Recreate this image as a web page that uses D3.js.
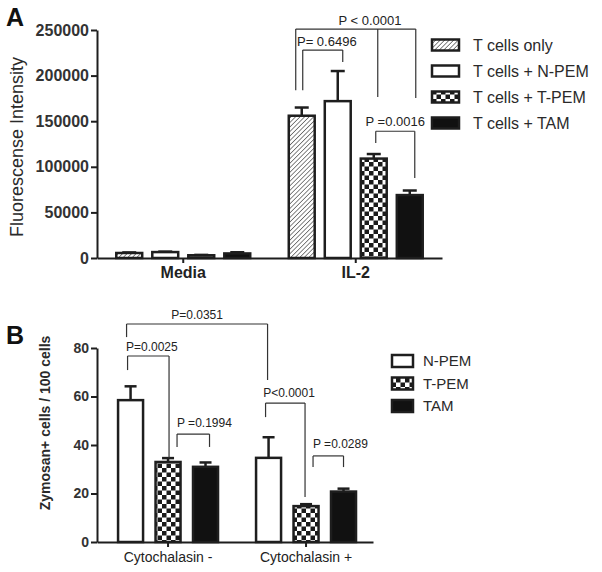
<!DOCTYPE html>
<html>
<head>
<meta charset="utf-8">
<script src="https://cdn.jsdelivr.net/npm/d3@7"></script>
<style>
  body { margin: 0; background: #fff; }
  svg { font-family: Arial, "Liberation Sans", sans-serif; }
</style>
</head>
<body>
<svg id="chart" width="602" height="572"></svg>
<script>
// Panel A data
const groupsA = ['Media', 'IL-2'];
const seriesA = ['T cells only', 'T cells + N-PEM', 'T cells + T-PEM', 'T cells + TAM'];
const meansA = [[5500, 6500, 3000, 5000], [156000, 172000, 109000, 69000]];
const errA = [[600, 500, 400, 1300], [9000, 33000, 5000, 5000]];
const ticksA = [0, 50000, 100000, 150000, 200000, 250000];

// Panel B data
const groupsB = ['Cytochalasin -', 'Cytochalasin +'];
const seriesB = ['N-PEM', 'T-PEM', 'TAM'];
const meansB = [[58.5, 33, 31], [34.7, 14.8, 20.8]];
const errB = [[5.7, 1.6, 1.8], [8.5, 0.8, 1.2]];
const ticksB = [0, 20, 40, 60, 80];

// significance brackets: legs = [group, series], values in data units
const bracketsA = [
  { label: 'P < 0.0001', legs: [[1, 0], [1, 2], [1, 3]], top: 251000, ends: [184000, 176500, 175400] },
  { label: 'P= 0.6496', legs: [[1, 0], [1, 1]], top: 228000, ends: [184000, 215000] },
  { label: 'P =0.0016', legs: [[1, 2], [1, 3]], top: 139000, ends: [126000, 87700] }
];
const bracketsB = [
  { label: 'P=0.0351', legs: [[0, 0], [1, 0]], top: 89.9, ends: [84.5, 66.8] },
  { label: 'P=0.0025', legs: [[0, 0], [0, 1]], top: 76.7, ends: [70.9, 34.6] },
  { label: 'P =0.1994', legs: [[0, 1], [0, 2]], top: 44.5, ends: [39.2, 39.2] },
  { label: 'P<0.0001', legs: [[1, 0], [1, 1]], top: 57.3, ends: [51.5, 18.6] },
  { label: 'P =0.0289', legs: [[1, 1], [1, 2]], top: 35.5, ends: [30.9, 30.9] }
];

// layout tweaks for the brackets (pixels)
const bracketLookA = [
  { nudge: [-6, 4, 6], anchor: 'middle', tx: 370, dy: -4 },
  { nudge: [1, 5], anchor: 'start', tx: 297, dy: -4 },
  { nudge: [2, 5], anchor: 'middle', tx: null, dy: -5 }
];
const bracketLookB = [
  { nudge: [-4, -1], anchor: 'middle', tx: null, dy: -5 },
  { nudge: [-3, 1], anchor: 'start', tx: 126, dy: -5 },
  { nudge: [9, 4], anchor: 'start', tx: 177, dy: -7 },
  { nudge: [-3, -1], anchor: 'middle', tx: 289, dy: -6 },
  { nudge: [7, 0], anchor: 'start', tx: 313, dy: -8 }
];

const ink = '#1e1e1e';
const svg = d3.select('#chart');

// patterns
const defs = svg.append('defs');
const hatch = defs.append('pattern')
  .attr('id', 'hatch').attr('patternUnits', 'userSpaceOnUse')
  .attr('width', 3.2).attr('height', 3.2)
  .attr('patternTransform', 'rotate(45)');
hatch.append('rect').attr('width', 3.2).attr('height', 3.2).attr('fill', '#fff');
hatch.append('line').attr('x1', 0).attr('y1', 0).attr('x2', 0).attr('y2', 3.2)
  .attr('stroke', '#444').attr('stroke-width', 1.3);

const checker = defs.append('pattern')
  .attr('id', 'checker').attr('patternUnits', 'userSpaceOnUse')
  .attr('width', 9).attr('height', 9);
checker.append('rect').attr('width', 9).attr('height', 9).attr('fill', '#fff');
checker.append('rect').attr('width', 4.5).attr('height', 4.5).attr('fill', '#1a1a1a');
checker.append('rect').attr('x', 4.5).attr('y', 4.5).attr('width', 4.5).attr('height', 4.5).attr('fill', '#1a1a1a');

const fillsA = ['url(#hatch)', '#fff', 'url(#checker)', '#111'];
const fillsB = ['#fff', 'url(#checker)', '#111'];

function drawPanel(opt) {
  const g = svg.append('g');
  const y = d3.scaleLinear().domain(opt.yDomain).range(opt.yRange);
  const x0 = d3.scaleBand().domain(opt.groups).range(opt.xRange)
    .paddingInner(opt.padInner).paddingOuter(opt.padOuter).align(opt.align);
  const x1 = d3.scaleBand().domain(d3.range(opt.series.length)).range([0, x0.bandwidth()])
    .paddingInner(opt.subInner).paddingOuter(opt.subOuter);
  const cx = (gi, si) => x0(opt.groups[gi]) + x1(si) + x1.bandwidth() / 2;

  // bars + error bars
  opt.groups.forEach((grp, gi) => {
    opt.series.forEach((s, si) => {
      const v = opt.means[gi][si], e = opt.errs[gi][si];
      const bx = x0(grp) + x1(si);
      g.append('line')
        .attr('x1', bx + x1.bandwidth() / 2).attr('x2', bx + x1.bandwidth() / 2)
        .attr('y1', y(v)).attr('y2', y(v + e))
        .attr('stroke', ink).attr('stroke-width', 2.5);
      g.append('line')
        .attr('x1', bx + x1.bandwidth() / 2 - opt.cap).attr('x2', bx + x1.bandwidth() / 2 + opt.cap)
        .attr('y1', y(v + e)).attr('y2', y(v + e))
        .attr('stroke', ink).attr('stroke-width', 2.5);
      g.append('rect')
        .attr('x', bx).attr('y', y(v))
        .attr('width', x1.bandwidth()).attr('height', y(0) - y(v))
        .attr('fill', opt.fills[si]).attr('stroke', ink).attr('stroke-width', 2.5);
    });
  });

  // y axis
  const yAxis = g.append('g')
    .attr('transform', `translate(${opt.xRange[0]},0)`)
    .call(d3.axisLeft(y).tickValues(opt.ticks).tickFormat(d3.format('d'))
      .tickSize(6).tickSizeOuter(0).tickPadding(2));
  yAxis.select('.domain').attr('stroke', ink).attr('stroke-width', 2);
  yAxis.selectAll('.tick line').attr('stroke', ink).attr('stroke-width', 2);
  yAxis.selectAll('.tick text')
    .attr('fill', '#333').style('font-size', opt.tickFont + 'px').style('font-weight', 'bold')
    .style('font-family', 'Arial, "Liberation Sans", sans-serif');

  // x axis
  const xAxis = g.append('g')
    .attr('transform', `translate(0,${opt.yRange[0]})`)
    .call(d3.axisBottom(x0).tickSize(5).tickSizeOuter(0).tickPadding(opt.xPad));
  xAxis.select('.domain').attr('stroke', ink).attr('stroke-width', 2);
  xAxis.selectAll('.tick line').attr('stroke', ink).attr('stroke-width', 2);
  xAxis.selectAll('.tick text')
    .attr('fill', '#222').style('font-size', opt.xFont + 'px').style('font-weight', opt.xWeight)
    .style('font-family', 'Arial, "Liberation Sans", sans-serif');

  // y label
  g.append('text')
    .attr('transform', `translate(${opt.yLabelX},${(opt.yRange[0] + opt.yRange[1]) / 2 + opt.yLabelDy}) rotate(-90)`)
    .attr('text-anchor', 'middle')
    .attr('fill', '#2a2a2a')
    .style('font-size', opt.yLabelFont + 'px').style('font-weight', opt.yLabelWeight)
    .text(opt.yLabel);

  // brackets
  opt.brackets.forEach((b, bi) => {
    const look = opt.looks[bi];
    const xs = b.legs.map((l, i) => cx(l[0], l[1]) + look.nudge[i]);
    const top = y(b.top);
    g.append('line')
      .attr('x1', d3.min(xs)).attr('x2', d3.max(xs)).attr('y1', top).attr('y2', top)
      .attr('stroke', '#333').attr('stroke-width', 1.2);
    xs.forEach((xv, i) => {
      g.append('line')
        .attr('x1', xv).attr('x2', xv).attr('y1', top).attr('y2', y(b.ends[i]))
        .attr('stroke', '#333').attr('stroke-width', 1.2);
    });
    const tx = look.tx != null ? look.tx : (d3.min(xs) + d3.max(xs)) / 2;
    g.append('text')
      .attr('x', tx).attr('y', top + look.dy)
      .attr('text-anchor', look.anchor)
      .attr('fill', '#222')
      .style('font-size', opt.pFont + 'px')
      .text(b.label);
  });

  // legend
  const leg = g.append('g');
  opt.series.forEach((s, si) => {
    const ly = opt.legend.y + si * opt.legend.step;
    leg.append('rect')
      .attr('x', opt.legend.x).attr('y', ly - opt.legend.h / 2)
      .attr('width', opt.legend.w).attr('height', opt.legend.h)
      .attr('fill', opt.fills[si]).attr('stroke', ink).attr('stroke-width', 2.5);
    leg.append('text')
      .attr('x', opt.legend.tx).attr('y', ly)
      .attr('dy', '0.36em')
      .attr('fill', '#2a2a2a')
      .style('font-size', opt.legend.font + 'px')
      .text(s);
  });

  // panel letter
  g.append('text')
    .attr('x', opt.letterPos[0]).attr('y', opt.letterPos[1])
    .attr('fill', '#111')
    .style('font-size', '25px').style('font-weight', 'bold')
    .text(opt.letter);
}

drawPanel({
  groups: groupsA, series: seriesA, means: meansA, errs: errA, ticks: ticksA, fills: fillsA,
  yDomain: [0, 250000], yRange: [258, 30], xRange: [97, 442],
  padInner: 0.165, padOuter: 0.0825, align: 0.5, subInner: 0.28, subOuter: 0.14,
  cap: 7, tickFont: 16, xFont: 16, xWeight: 'bold', xPad: 4,
  yLabel: 'Fluorescense Intensity', yLabelX: 23, yLabelDy: 3, yLabelFont: 18, yLabelWeight: 'normal',
  brackets: bracketsA, looks: bracketLookA, pFont: 13,
  legend: { x: 432, y: 45, step: 26, w: 27, h: 11, tx: 473, font: 16 },
  letter: 'A', letterPos: [6, 26]
});

drawPanel({
  groups: groupsB, series: seriesB, means: meansB, errs: errB, ticks: ticksB, fills: fillsB,
  yDomain: [0, 80], yRange: [542, 348], xRange: [97, 373],
  padInner: 0.185, padOuter: 0.0925, align: 0.58, subInner: 0.333, subOuter: 0.167,
  cap: 6, tickFont: 14, xFont: 14, xWeight: 'normal', xPad: 5,
  yLabel: 'Zymosan+ cells / 100 cells', yLabelX: 50, yLabelDy: -22, yLabelFont: 14, yLabelWeight: 'bold',
  brackets: bracketsB, looks: bracketLookB, pFont: 12,
  legend: { x: 392, y: 361, step: 22.5, w: 21, h: 12, tx: 423, font: 15 },
  letter: 'B', letterPos: [6, 344]
});
</script>
</body>
</html>
